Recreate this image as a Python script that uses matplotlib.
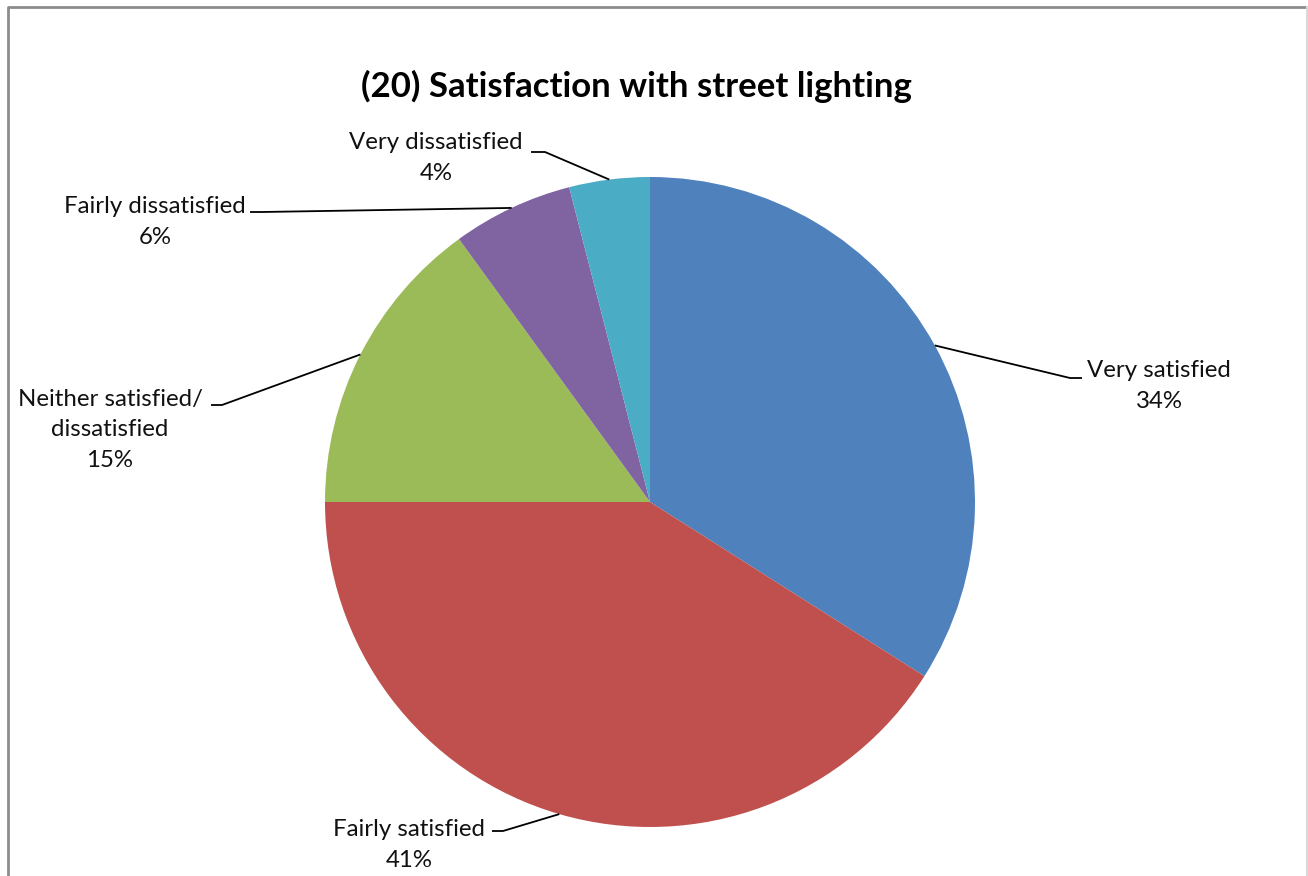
import math
import matplotlib
matplotlib.use('Agg')
import matplotlib.pyplot as plt

plt.rcParams['font.family'] = ['Lato', 'DejaVu Sans']

categories = ['Very satisfied', 'Fairly satisfied', 'Neither satisfied/\ndissatisfied',
              'Fairly dissatisfied', 'Very dissatisfied']
shares = [34, 41, 15, 6, 4]
colours = ['#4F81BD', '#C0504D', '#9BBB59', '#8064A2', '#4BACC6']

W, H = 1308, 876
fig = plt.figure(figsize=(W / 100, H / 100), dpi=100)
ax = fig.add_axes([0, 0, 1, 1])

cx, cy, r = 650, H - 502, 325
wedges, _ = ax.pie(shares, colors=colours, startangle=90, counterclock=False,
                   center=(cx, cy), radius=r, wedgeprops=dict(linewidth=0))
ax.set_xlim(0, W)
ax.set_ylim(0, H)
ax.set_aspect('equal')
ax.axis('off')

# elbow of the leader line, end of its short flat piece, and where the text goes
# (all in pixels from the top left)
leaders = [
    ((1070, 378), (1082, 378), (1159, 386)),
    ((503, 831), (492, 831), (409, 845)),
    ((222, 405), (211, 405), (110, 430)),
    ((262, 212), (250, 212), (155, 222)),
    ((545, 152), (531, 152), (436, 158)),
]

for w, name, val, (elbow, end, txt) in zip(wedges, categories, shares, leaders):
    mid = math.radians((w.theta1 + w.theta2) / 2)
    ex, ey = cx + r * math.cos(mid), cy + r * math.sin(mid)
    ax.plot([ex, elbow[0], end[0]], [ey, H - elbow[1], H - end[1]],
            color='black', lw=1.3, solid_capstyle='butt')
    ax.text(txt[0], H - txt[1], f'{name}\n{val}%', ha='center', va='center',
            fontsize=17.3, color='#111111', linespacing=1.56)

ax.text(636, H - 86, '(20) Satisfaction with street lighting', ha='center', va='center',
        fontsize=25, fontweight='bold', color='black')

# chart area border
ax.plot([7.5, 7.5, W], [0, H - 6.5, H - 6.5], color='#8c8c8c', lw=2, solid_capstyle='butt')
ax.plot([W - 1.5, W - 1.5], [0, H - 7], color='#d9d9d9', lw=1.5)

fig.savefig('out.png', dpi=100)
